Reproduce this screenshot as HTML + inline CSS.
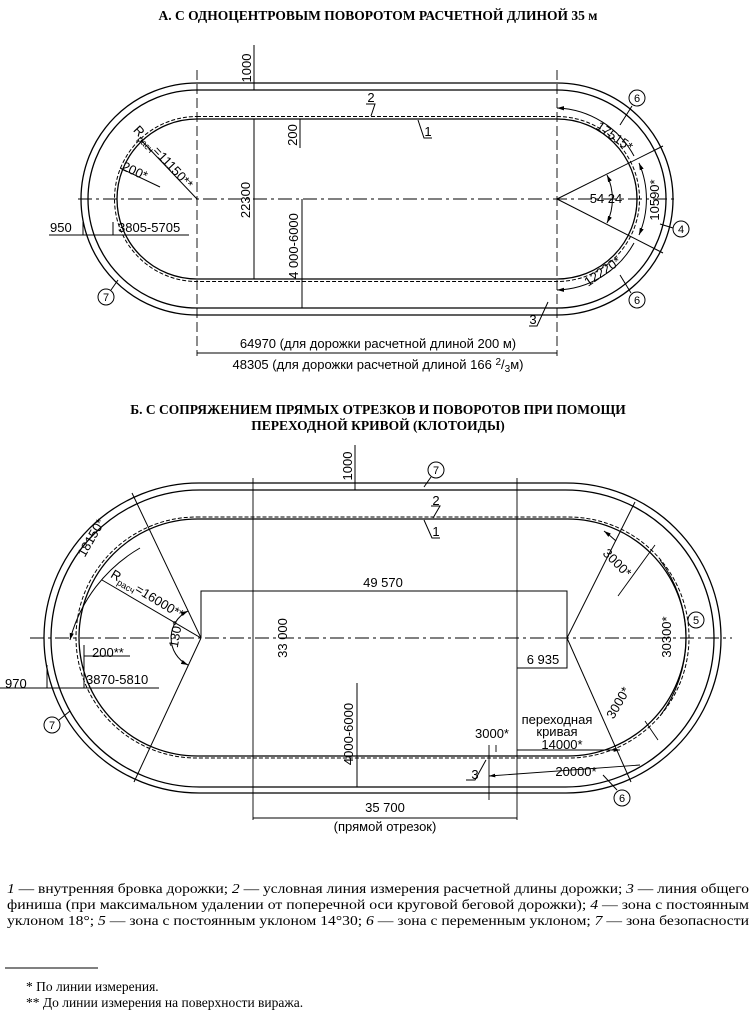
<!DOCTYPE html>
<html><head><meta charset="utf-8"><style>
html,body{margin:0;padding:0;background:#fff;}
svg{display:block;}
text{font-family:"Liberation Sans",sans-serif;fill:#000;}
.s{font-family:"Liberation Serif",serif;}
</style></head><body>
<svg width="756" height="1012" viewBox="0 0 756 1012" xmlns="http://www.w3.org/2000/svg">
<defs>
<marker id="a" viewBox="0 0 10 10" refX="10" refY="5" markerWidth="7" markerHeight="7" orient="auto-start-reverse"><path d="M0,2 L10,5 L0,8z" fill="#000"/></marker>
</defs>
<g stroke="#000" fill="none" stroke-width="1.3">
<!-- TOP DRAWING -->
<rect x="81" y="83" width="592" height="232" rx="116"/>
<rect x="88" y="90" width="578" height="218" rx="109"/>
<rect x="114.5" y="116.5" width="525" height="165" rx="82.5" stroke-dasharray="4,2" stroke-width="1"/>
<rect x="117" y="119" width="520" height="160" rx="80"/>
<line x1="78" y1="199" x2="675" y2="199" stroke-width="0.9" stroke-dasharray="14,4,3,4"/>
<line x1="197" y1="70" x2="197" y2="356" stroke-width="0.9" stroke-dasharray="10,4"/>
<line x1="557" y1="70" x2="557" y2="356" stroke-width="0.9" stroke-dasharray="10,4"/>
<line x1="254" y1="45" x2="254" y2="90" stroke-width="1"/>
<line x1="300" y1="119" x2="300" y2="148" stroke-width="1"/>
<line x1="254" y1="119" x2="254" y2="279" stroke-width="1"/>
<line x1="302" y1="199" x2="302" y2="308" stroke-width="1"/>
<line x1="197" y1="353" x2="557" y2="353" stroke-width="1"/>
<line x1="557" y1="199" x2="663" y2="146" stroke-width="1"/>
<line x1="557" y1="199" x2="663" y2="253" stroke-width="1"/>
<path d="M607,175 A56,56 0 0 1 607,223" stroke-width="1" marker-start="url(#a)" marker-end="url(#a)"/>
<path d="M557,108 A91,91 0 0 1 634,156" stroke-width="1" marker-start="url(#a)"/>
<path d="M639,163 A91,91 0 0 1 639,235" stroke-width="1" marker-start="url(#a)" marker-end="url(#a)"/>
<path d="M634,243 A91,91 0 0 1 557,290" stroke-width="1" marker-end="url(#a)"/>
<line x1="197" y1="199" x2="141" y2="140" stroke-width="1"/>
<line x1="120" y1="168" x2="160" y2="187" stroke-width="1"/>
<line x1="49" y1="235" x2="189" y2="235" stroke-width="1"/>
<line x1="83" y1="222" x2="83" y2="235" stroke-width="1"/>
<line x1="113" y1="222" x2="113" y2="235" stroke-width="1"/>
<circle cx="637" cy="98" r="8" stroke-width="1"/><line x1="632" y1="106" x2="620" y2="125" stroke-width="1"/>
<circle cx="637" cy="300" r="8" stroke-width="1"/><line x1="631" y1="293" x2="620" y2="275" stroke-width="1"/>
<circle cx="681" cy="229" r="8" stroke-width="1"/><line x1="673" y1="228" x2="660" y2="224" stroke-width="1"/>
<circle cx="106" cy="297" r="8" stroke-width="1"/><line x1="111" y1="290" x2="118" y2="280" stroke-width="1"/>
<path d="M366,104 L375,104 L371,116" stroke-width="1"/>
<path d="M432,138 L424,138 L418,120" stroke-width="1"/>
<path d="M529,326 L537,326 L548,302" stroke-width="1"/>
<!-- BOTTOM DRAWING -->
<rect x="44" y="483" width="677" height="310" rx="155"/>
<rect x="51" y="490" width="663" height="297" rx="148.5"/>
<rect x="76" y="517" width="613" height="241" rx="120.5" stroke-dasharray="4,2" stroke-width="1"/>
<rect x="79" y="519" width="607" height="237" rx="118.5"/>
<line x1="30" y1="638" x2="732" y2="638" stroke-width="0.9" stroke-dasharray="14,4,3,4"/>
<line x1="253" y1="478" x2="253" y2="820" stroke-width="0.9"/>
<line x1="517" y1="478" x2="517" y2="820" stroke-width="0.9"/>
<line x1="355" y1="445" x2="355" y2="490" stroke-width="1"/>
<path d="M201,638 L201,591 L567,591 L567,638" stroke-width="1"/>
<path d="M517,668 L567,668 L567,638" stroke-width="1"/>
<line x1="357" y1="683" x2="357" y2="787" stroke-width="1"/>
<line x1="253" y1="818" x2="517" y2="818" stroke-width="1"/>
<line x1="201" y1="638" x2="132" y2="493" stroke-width="1"/>
<line x1="201" y1="638" x2="134" y2="782" stroke-width="1"/>
<line x1="201" y1="638" x2="102" y2="580" stroke-width="1"/>
<path d="M188,611 A30,30 0 0 0 188,665" stroke-width="1" marker-start="url(#a)" marker-end="url(#a)"/>
<path d="M140,548 A150,150 0 0 0 70,640" stroke-width="1" marker-end="url(#a)"/>
<line x1="0" y1="688" x2="159" y2="688" stroke-width="1"/>
<line x1="47" y1="665" x2="47" y2="688" stroke-width="1"/>
<line x1="84" y1="645" x2="84" y2="688" stroke-width="1"/>
<line x1="84" y1="656" x2="130" y2="656" stroke-width="1"/>
<line x1="567" y1="638" x2="635" y2="502" stroke-width="1"/>
<line x1="567" y1="638" x2="631" y2="782" stroke-width="1"/>
<line x1="655" y1="545" x2="618" y2="596" stroke-width="0.9"/>
<line x1="658" y1="740" x2="645" y2="721" stroke-width="0.9"/>
<path d="M604,531 A140,140 0 0 1 616,541" stroke-width="1" marker-start="url(#a)"/>
<path d="M660,560 A130,130 0 0 1 660,716" stroke-width="1"/>
<path d="M517,750 L620,750" stroke-width="0.9" marker-end="url(#a)"/>
<path d="M489,776 L640,765" stroke-width="0.9" marker-start="url(#a)"/>
<line x1="489" y1="745" x2="489" y2="800" stroke-width="0.9"/>
<line x1="496" y1="745" x2="496" y2="752" stroke-width="0.9"/>
<circle cx="436" cy="470" r="8" stroke-width="1"/><line x1="431" y1="477" x2="424" y2="487" stroke-width="1"/>
<circle cx="696" cy="620" r="8" stroke-width="1"/>
<circle cx="622" cy="798" r="8" stroke-width="1"/><line x1="617" y1="790" x2="603" y2="775" stroke-width="1"/>
<circle cx="52" cy="725" r="8" stroke-width="1"/><line x1="59" y1="720" x2="70" y2="711" stroke-width="1"/>
<path d="M431,506 L440,506 L433,518" stroke-width="1"/>
<path d="M440,538 L432,538 L424,520" stroke-width="1"/>
<path d="M466,780 L475,780 L486,760" stroke-width="1"/>
<line x1="5" y1="968" x2="98" y2="968" stroke-width="0.9"/>
</g>
<g font-size="13">
<text x="378" y="20" text-anchor="middle" class="s" font-weight="bold" font-size="13.5">А. С ОДНОЦЕНТРОВЫМ ПОВОРОТОМ РАСЧЕТНОЙ ДЛИНОЙ 35 м</text>
<text x="378" y="414" text-anchor="middle" class="s" font-weight="bold" font-size="13.5">Б. С СОПРЯЖЕНИЕМ ПРЯМЫХ ОТРЕЗКОВ И ПОВОРОТОВ ПРИ ПОМОЩИ</text>
<text x="378" y="430" text-anchor="middle" class="s" font-weight="bold" font-size="13.5">ПЕРЕХОДНОЙ КРИВОЙ (КЛОТОИДЫ)</text>
<text transform="translate(251,68) rotate(-90)" text-anchor="middle">1000</text>
<text transform="translate(297,135) rotate(-90)" text-anchor="middle">200</text>
<text transform="translate(250,200) rotate(-90)" text-anchor="middle">22300</text>
<text transform="translate(298,246) rotate(-90)" text-anchor="middle">4 000-6000</text>
<text x="378" y="348" text-anchor="middle">64970 (для дорожки расчетной длиной 200 м)</text>
<text x="378" y="369" text-anchor="middle">48305 (для дорожки расчетной длиной 166 <tspan font-size="10" dy="-4">2</tspan><tspan dy="4">/</tspan><tspan font-size="10" dy="3">3</tspan><tspan dy="-3">м)</tspan></text>
<text x="606" y="203" text-anchor="middle">54 24</text>
<text transform="translate(612,140) rotate(35)" text-anchor="middle">17515*</text>
<text transform="translate(659,200) rotate(-90)" text-anchor="middle">10590*</text>
<text transform="translate(605,275) rotate(-35)" text-anchor="middle">12220*</text>
<text x="637" y="102" text-anchor="middle" font-size="11">6</text>
<text x="637" y="304" text-anchor="middle" font-size="11">6</text>
<text x="681" y="233" text-anchor="middle" font-size="11">4</text>
<text x="106" y="301" text-anchor="middle" font-size="11">7</text>
<text x="371" y="102" text-anchor="middle">2</text>
<text x="428" y="136" text-anchor="middle">1</text>
<text x="533" y="324" text-anchor="middle">3</text>
<text transform="translate(160,160) rotate(47)" text-anchor="middle">R<tspan font-size="9" dy="3">расч</tspan><tspan dy="-3">=11150**</tspan></text>
<text transform="translate(133,175) rotate(25)" text-anchor="middle">200*</text>
<text x="50" y="232">950</text>
<text x="118" y="232">3805-5705</text>
<text transform="translate(352,466) rotate(-90)" text-anchor="middle">1000</text>
<text x="436" y="474" text-anchor="middle" font-size="11">7</text>
<text x="436" y="505" text-anchor="middle">2</text>
<text x="436" y="536" text-anchor="middle">1</text>
<text x="383" y="587" text-anchor="middle">49 570</text>
<text transform="translate(287,638) rotate(-90)" text-anchor="middle">33 000</text>
<text x="543" y="664" text-anchor="middle">6 935</text>
<text transform="translate(353,734) rotate(-90)" text-anchor="middle">4000-6000</text>
<text x="385" y="812" text-anchor="middle">35 700</text>
<text x="385" y="831" text-anchor="middle">(прямой отрезок)</text>
<text transform="translate(145,598) rotate(31)" text-anchor="middle">R<tspan font-size="9" dy="3">расч</tspan><tspan dy="-3">=16000**</tspan></text>
<text transform="translate(95,540) rotate(-60)" text-anchor="middle">18150*</text>
<text transform="translate(180,635) rotate(-80)" text-anchor="middle">130°</text>
<text x="92" y="657">200**</text>
<text x="5" y="688">970</text>
<text x="86" y="684">3870-5810</text>
<text transform="translate(614,566) rotate(45)" text-anchor="middle">3000*</text>
<text transform="translate(671,637) rotate(-90)" text-anchor="middle">30300*</text>
<text x="696" y="624" text-anchor="middle" font-size="11">5</text>
<text transform="translate(622,705) rotate(-60)" text-anchor="middle">3000*</text>
<text x="557" y="724" text-anchor="middle">переходная</text>
<text x="557" y="736" text-anchor="middle">кривая</text>
<text x="492" y="738" text-anchor="middle">3000*</text>
<text x="562" y="749" text-anchor="middle">14000*</text>
<text x="576" y="776" text-anchor="middle">20000*</text>
<text x="622" y="802" text-anchor="middle" font-size="11">6</text>
<text x="52" y="729" text-anchor="middle" font-size="11">7</text>
<text x="475" y="779" text-anchor="middle">3</text>
</g>
<g class="s" font-size="14">
<text x="7" y="893" class="s" textLength="742" lengthAdjust="spacingAndGlyphs"><tspan font-style="italic">1</tspan> — внутренняя бровка дорожки; <tspan font-style="italic">2</tspan> — условная линия измерения расчетной длины дорожки; <tspan font-style="italic">3</tspan> — линия общего</text>
<text x="7" y="909" class="s" textLength="742" lengthAdjust="spacingAndGlyphs">финиша (при максимальном удалении от поперечной оси круговой беговой дорожки); <tspan font-style="italic">4</tspan> — зона с постоянным</text>
<text x="7" y="925" class="s" textLength="742" lengthAdjust="spacingAndGlyphs">уклоном 18°; <tspan font-style="italic">5</tspan> — зона с постоянным уклоном 14°30; <tspan font-style="italic">6</tspan> — зона с переменным уклоном; <tspan font-style="italic">7</tspan> — зона безопасности</text>
<text x="26" y="991" class="s" font-size="13.5">* По линии измерения.</text>
<text x="26" y="1007" class="s" font-size="13.5">** До линии измерения на поверхности виража.</text>
</g>
</svg>
</body></html>
